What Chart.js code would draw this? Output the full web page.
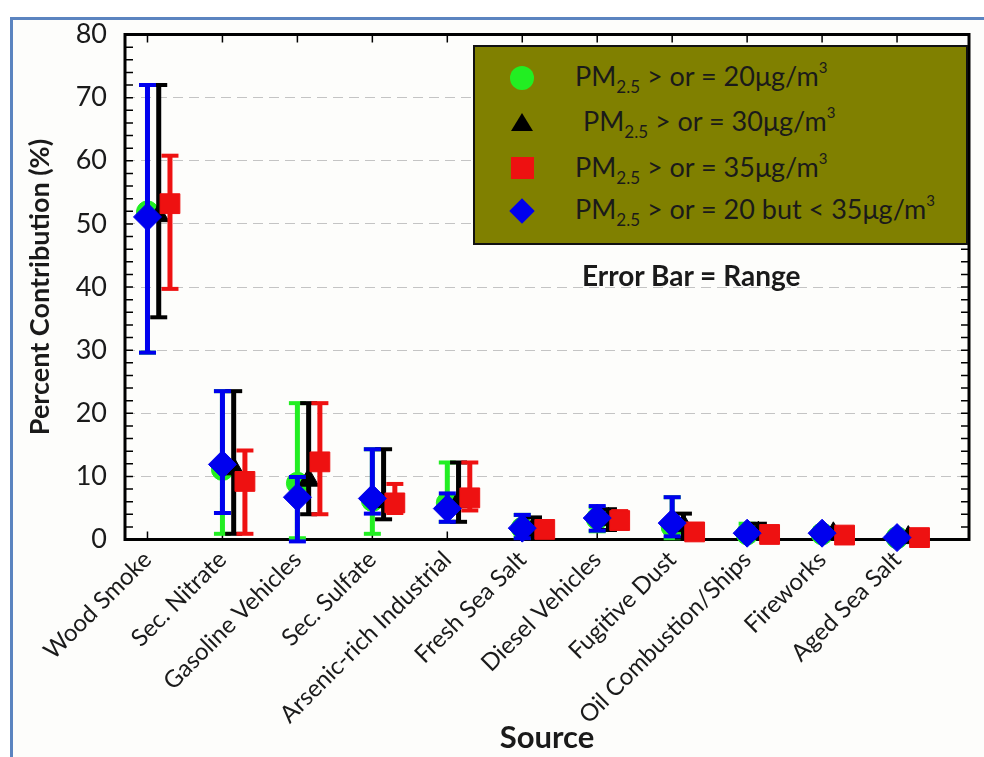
<!DOCTYPE html>
<html><head><meta charset="utf-8">
<script src="https://cdn.jsdelivr.net/npm/chart.js@4"></script>
<style>
html,body{margin:0;padding:0;background:#fff;}
#wrap{position:relative;width:984px;height:757px;overflow:hidden;background:#fff;}
#frame{position:absolute;left:10px;top:17px;width:1000px;height:800px;border-left:3px solid #5b84c0;border-top:3px solid #5b84c0;background:#fdfdfb;}
#c{position:absolute;left:0;top:0;}
#legend{position:absolute;left:473px;top:45px;width:491px;height:196px;background:#808000;border:2px solid #111;font-family:Lato,"Open Sans",sans-serif;color:#1a1a1a;}
.row{position:absolute;left:100px;font-size:27px;line-height:32px;white-space:nowrap;}
.row sub{font-size:17px;vertical-align:-7px;line-height:0;}
.row sup{font-size:15px;vertical-align:13px;line-height:0;}
.sym{position:absolute;}
#note{position:absolute;left:582px;top:258px;font-family:Lato,"Open Sans",sans-serif;font-weight:bold;font-size:28px;line-height:34px;color:#1a1a1a;white-space:nowrap;}
</style></head>
<body>
<div id="wrap">
<div id="frame"></div>
<canvas id="c" width="984" height="757"></canvas>
<div id="legend">
  <div class="sym" style="left:35px;top:19px;width:24px;height:24px;border-radius:50%;background:#22ee22;"></div>
  <div class="row" style="top:13px;">PM<sub>2.5</sub> &gt; or = 20μg/m<sup>3</sup></div>
  <div class="sym" style="left:36px;top:66px;width:0;height:0;border-left:11px solid transparent;border-right:11px solid transparent;border-bottom:18px solid #000;"></div>
  <div class="row" style="top:58px;left:108px;">PM<sub>2.5</sub> &gt; or = 30μg/m<sup>3</sup></div>
  <div class="sym" style="left:36px;top:110px;width:23px;height:22px;background:#ee1111;"></div>
  <div class="row" style="top:104px;">PM<sub>2.5</sub> &gt; or = 35μg/m<sup>3</sup></div>
  <div class="sym" style="left:38px;top:155px;width:18px;height:18px;background:#0000ee;transform:rotate(45deg);"></div>
  <div class="row" style="top:146px;">PM<sub>2.5</sub> &gt; or = 20 but &lt; 35μg/m<sup>3</sup></div>
</div>
<div id="note">Error Bar = Range</div>
</div>
<script>
// ---- data ----
const categories = ['Wood Smoke','Sec. Nitrate','Gasoline Vehicles','Sec. Sulfate','Arsenic-rich Industrial','Fresh Sea Salt','Diesel Vehicles','Fugitive Dust','Oil Combustion/Ships','Fireworks','Aged Sea Salt'];
const yTickValues = [0,10,20,30,40,50,60,70,80];

const greenMean = [51.9, 11.1, 8.9, 6.2, 5.8, 1.8, 3.3, 2.0, 0.9, 0.9, 0.3];
const greenLow  = [29.6, 0.9, 0.2, 0.9, 2.8, 0.3, 1.3, 0.2, 0.2, 0.2, 0.0];
const greenHigh = [72.0, 23.5, 21.6, 14.3, 12.2, 3.9, 5.1, 6.7, 2.5, 1.8, 0.8];

const blackMean = [51.3, 11.2, 9.4, 6.0, 6.0, 1.8, 3.2, 2.2, 1.0, 0.9, 0.3];
const blackLow  = [35.2, 0.9, 4.0, 3.2, 2.8, 0.5, 1.5, 0.3, 0.3, 0.3, 0.0];
const blackHigh = [72.0, 23.5, 21.6, 14.3, 12.2, 3.5, 4.8, 4.1, 2.5, 1.6, 0.7];

const redMean = [53.2, 9.2, 12.3, 5.8, 6.6, 1.6, 3.0, 1.2, 0.8, 0.7, 0.3];
const redLow  = [39.7, 0.9, 4.0, 4.2, 4.6, 0.6, 1.8, 0.3, 0.3, 0.3, 0.1];
const redHigh = [60.8, 14.1, 21.6, 8.8, 12.2, 2.6, 4.5, 2.2, 1.4, 1.2, 0.5];

const blueMean = [51.1, 11.9, 6.7, 6.5, 4.9, 1.8, 3.4, 2.6, 1.0, 1.0, 0.3];
const blueLow  = [29.6, 4.2, -0.3, 4.1, 2.8, 0.2, 1.4, 0.5, 0.3, 0.3, 0.0];
const blueHigh = [72.0, 23.5, 9.9, 14.3, 7.3, 3.9, 5.3, 6.7, 1.7, 1.6, 0.6];

// ---- build ----
function barData(low, high, off) {
  const d = [];
  low.forEach((l, i) => {
    d.push({x: i + 1 + off, y: l});
    d.push({x: i + 1 + off, y: high[i]});
    d.push({x: i + 1 + off, y: null});
  });
  return d;
}
function ptData(mean, off) { return mean.map((m, i) => ({x: i + 1 + off, y: m})); }

const series = [
  {mean: greenMean, low: greenLow, high: greenHigh, color: '#22ee22', style: 'circle', r: 11, off: 0},
  {mean: blackMean, low: blackLow, high: blackHigh, color: '#000000', style: 'triangle', r: 12, off: 0.15},
  {mean: redMean, low: redLow, high: redHigh, color: '#ee1111', style: 'rect', r: 14, off: 0.3},
  {mean: blueMean, low: blueLow, high: blueHigh, color: '#0000ee', style: 'rectRot', r: 14, off: 0}
];
const datasets = [];
let ord = 100;
series.forEach(s => {
  datasets.push({
    type: 'line', data: barData(s.low, s.high, s.off), borderColor: s.color, borderWidth: 5,
    showLine: true, spanGaps: false, pointStyle: 'line', pointRadius: 8.5, pointBorderWidth: 4,
    pointBorderColor: s.color, pointHoverRadius: 8.5, clip: false, order: ord--
  });
  datasets.push({
    type: 'line', data: ptData(s.mean, s.off), showLine: false, pointStyle: s.style,
    pointRadius: s.r, pointHoverRadius: s.r, backgroundColor: s.color, borderColor: s.color,
    pointBorderWidth: 1, clip: false, order: ord--
  });
});

const boxPlugin = {
  id: 'box',
  beforeDatasetsDraw(chart) {
    const {ctx, chartArea: a, scales: {x, y}} = chart;
    ctx.save();
    ctx.strokeStyle = '#000';
    ctx.lineWidth = 1.5;
    ctx.beginPath();
    for (let v = yTickValues[0]; v <= yTickValues[yTickValues.length - 1]; v += 2) {
      const py = y.getPixelForValue(v);
      ctx.moveTo(a.left, py); ctx.lineTo(a.left + 8, py);
      ctx.moveTo(a.right - 8, py); ctx.lineTo(a.right, py);
    }
    categories.forEach((c, i) => {
      const px = x.getPixelForValue(i + 1);
      ctx.moveTo(px, a.top); ctx.lineTo(px, a.top + 8);
      ctx.moveTo(px, a.bottom - 8); ctx.lineTo(px, a.bottom);
    });
    ctx.stroke();
    ctx.lineWidth = 3;
    ctx.strokeRect(a.left, a.top, a.right - a.left, a.bottom - a.top);
    ctx.restore();
  }
};

new Chart(document.getElementById('c'), {
  type: 'line',
  data: {datasets},
  options: {
    responsive: false, animation: false, events: [],
    layout: {padding: {left: 0, top: 34.5, right: 11, bottom: 0}},
    plugins: {legend: {display: false}, tooltip: {enabled: false}},
    scales: {
      x: {
        type: 'linear', min: 0.7, max: 11.96,
        afterBuildTicks: s => { s.ticks = categories.map((c, i) => ({value: i + 1})); },
        afterFit: s => { s.height = 217.5; },
        grid: {display: false, drawTicks: false},
        border: {display: false},
        ticks: {
          autoSkip: false, minRotation: 45, maxRotation: 45, padding: 6,
          color: '#1a1a1a', font: {family: 'Lato', size: 24},
          callback: v => categories[Math.round(v) - 1]
        },
        title: {display: true, text: 'Source', color: '#1a1a1a', font: {family: 'Lato', size: 31, weight: 'bold'}, padding: {top: 0, bottom: 0}}
      },
      y: {
        type: 'linear', min: 0, max: 80,
        afterBuildTicks: s => { s.ticks = yTickValues.map(v => ({value: v})); },
        afterFit: s => { s.width = 125; },
        grid: {drawTicks: false, lineWidth: 1, color: c => (c.tick && (c.tick.value === 0 || c.tick.value === 80)) ? 'rgba(0,0,0,0)' : '#c4c4c4'},
        border: {display: false, dash: [10, 6]},
        ticks: {padding: 18, color: '#1a1a1a', font: {family: 'Lato', size: 27}},
        title: {display: true, text: 'Percent Contribution (%)', color: '#1a1a1a', font: {family: 'Lato', size: 27, weight: 'bold'}, padding: {top: 24, bottom: 0}}
      }
    }
  },
  plugins: [boxPlugin]
});
</script>
</body></html>
